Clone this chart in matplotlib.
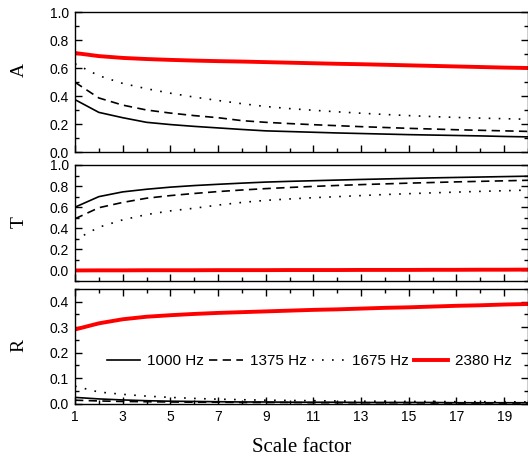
import matplotlib
matplotlib.use("Agg")
import matplotlib.pyplot as plt
from matplotlib.ticker import MultipleLocator

scale = list(range(1, 21))
freq_labels = ["1000 Hz", "1375 Hz", "1675 Hz", "2380 Hz"]

A_1000 = [0.374, 0.283, 0.245, 0.212, 0.196, 0.183, 0.172, 0.161, 0.151, 0.146,
          0.141, 0.136, 0.132, 0.128, 0.124, 0.121, 0.118, 0.115, 0.111, 0.108]
A_1375 = [0.498, 0.386, 0.335, 0.300, 0.278, 0.260, 0.245, 0.224, 0.212, 0.203,
          0.195, 0.188, 0.181, 0.175, 0.169, 0.164, 0.159, 0.155, 0.151, 0.147]
A_1675 = [0.630, 0.545, 0.490, 0.452, 0.420, 0.392, 0.368, 0.345, 0.325, 0.310,
          0.298, 0.287, 0.277, 0.268, 0.260, 0.253, 0.247, 0.242, 0.238, 0.234]
A_2380 = [0.707, 0.685, 0.672, 0.664, 0.658, 0.653, 0.649, 0.646, 0.642, 0.638,
          0.634, 0.630, 0.627, 0.623, 0.619, 0.615, 0.611, 0.607, 0.603, 0.600]

T_1000 = [0.600, 0.700, 0.745, 0.770, 0.790, 0.805, 0.817, 0.828, 0.838, 0.845,
          0.851, 0.857, 0.863, 0.868, 0.873, 0.878, 0.882, 0.886, 0.890, 0.894]
T_1375 = [0.490, 0.595, 0.645, 0.685, 0.710, 0.730, 0.748, 0.763, 0.776, 0.787,
          0.797, 0.806, 0.814, 0.821, 0.828, 0.834, 0.840, 0.845, 0.850, 0.855]
T_1675 = [0.290, 0.410, 0.480, 0.530, 0.565, 0.590, 0.620, 0.645, 0.665, 0.678,
          0.690, 0.700, 0.710, 0.720, 0.728, 0.736, 0.743, 0.750, 0.756, 0.762]
T_2380 = [0.000, 0.001, 0.001, 0.002, 0.002, 0.002, 0.003, 0.003, 0.003, 0.004,
          0.004, 0.004, 0.005, 0.005, 0.005, 0.006, 0.006, 0.007, 0.007, 0.008]

R_1000 = [0.024, 0.018, 0.014, 0.011, 0.009, 0.008, 0.007, 0.006, 0.006, 0.005,
          0.005, 0.005, 0.004, 0.004, 0.004, 0.004, 0.003, 0.003, 0.003, 0.003]
R_1375 = [0.013, 0.010, 0.008, 0.007, 0.006, 0.005, 0.005, 0.004, 0.004, 0.004,
          0.003, 0.003, 0.003, 0.003, 0.003, 0.002, 0.002, 0.002, 0.002, 0.002]
R_1675 = [0.068, 0.045, 0.036, 0.029, 0.024, 0.020, 0.017, 0.015, 0.013, 0.012,
          0.011, 0.010, 0.009, 0.009, 0.008, 0.008, 0.007, 0.007, 0.007, 0.006]
R_2380 = [0.291, 0.315, 0.331, 0.341, 0.347, 0.352, 0.356, 0.359, 0.362, 0.365,
          0.368, 0.370, 0.373, 0.376, 0.378, 0.381, 0.384, 0.386, 0.389, 0.391]

panels = [
    ("A", [A_1000, A_1375, A_1675, A_2380], (0.0, 1.0), 0.2, 0.1),
    ("T", [T_1000, T_1375, T_1675, T_2380], (-0.1, 1.0), 0.2, 0.1),
    ("R", [R_1000, R_1375, R_1675, R_2380], (0.0, 0.45), 0.1, 0.05),
]

styles = [
    dict(color="black", lw=1.2, linestyle="-"),
    dict(color="black", lw=1.2, linestyle=(0, (5.0, 3.2))),
    dict(color="black", lw=1.2, linestyle=(0, (1, 5.0))),
    dict(color="#ff0000", lw=2.8, linestyle="-"),
]

W, H = 528, 459
plt.rcParams["font.family"] = ["Liberation Sans", "DejaVu Sans"]
fig = plt.figure(figsize=(W / 100, H / 100), dpi=100)

# panel pixel boxes (top, bottom)
boxes = [(12, 152), (165, 281), (289, 403.5)]
left_px, right_px = 75, 528
label_y = [70, 222, 346]

axes = []
for i, ((name, series, ylim, major, minor), (t, b)) in enumerate(zip(panels, boxes)):
    ax = fig.add_axes([left_px / W, 1 - b / H, (right_px - left_px) / W, (b - t) / H])
    for s, st in zip(series, styles):
        ax.plot(scale, s, **st)
    ax.set_xlim(1, 20)
    ax.set_ylim(*ylim)
    ax.set_xticks(list(range(1, 21, 2)))
    ax.xaxis.set_minor_locator(MultipleLocator(1))
    ax.yaxis.set_major_locator(MultipleLocator(major))
    ax.yaxis.set_minor_locator(MultipleLocator(minor))
    ax.tick_params(which="both", direction="in", right=True, top=(i == 2),
                   width=1.0, labelsize=10)
    ax.tick_params(which="major", length=4.8)
    ax.tick_params(which="minor", length=2.6)
    ax.tick_params(axis="y", pad=4.5)
    ax.tick_params(axis="x", pad=5)
    if i < 2:
        ax.tick_params(axis="x", labelbottom=False)
    for sp in ax.spines.values():
        sp.set_linewidth(1.0)
    if name == "T":
        ax.set_yticks([0.0, 0.2, 0.4, 0.6, 0.8, 1.0])
    ax.yaxis.set_major_formatter(matplotlib.ticker.FormatStrFormatter("%.1f"))
    fig.text(19 / W, 1 - label_y[i] / H, name, rotation=90, ha="center", va="center",
             family=["Liberation Serif", "DejaVu Serif"], fontsize=14)
    axes.append(ax)

axes[2].legend(freq_labels, ncol=4, frameon=False, loc="center",
               bbox_to_anchor=(0.517, 0.37), fontsize=11, handlelength=2.2,
               handletextpad=0.45, columnspacing=0.35, borderpad=0, borderaxespad=0)

fig.text((left_px + right_px) / 2 / W, 1 - 452 / H, "Scale factor", ha="center",
         va="baseline", family=["Liberation Serif", "DejaVu Serif"], fontsize=15)

fig.savefig("out.png", dpi=100)
